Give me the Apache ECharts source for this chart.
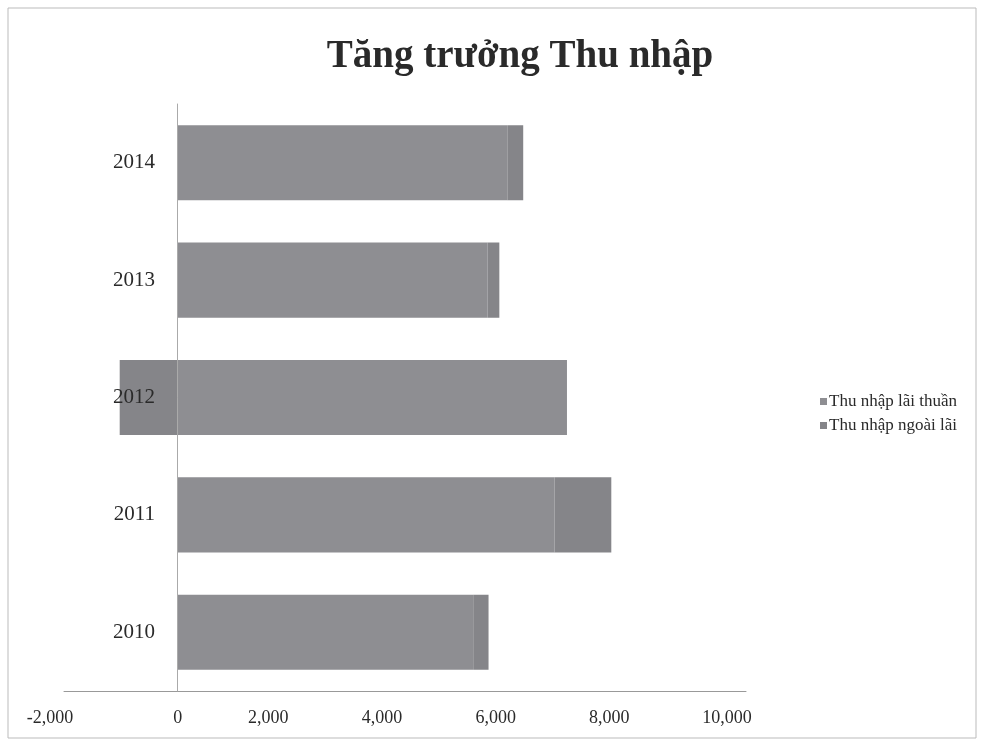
<!DOCTYPE html>
<html>
<head>
<meta charset="utf-8">
<script src="https://cdn.jsdelivr.net/npm/echarts@6/dist/echarts.min.js"></script>
<style>html,body{margin:0;padding:0;background:#fff}#c{width:987px;height:746px}</style>
</head>
<body>
<div id="c"></div>
<script>
const categories = ['2010', '2011', '2012', '2013', '2014'];
const seriesNames = ['Thu nhập lãi thuần', 'Thu nhập ngoài lãi'];
const netInterest = [5200, 6630, 6850, 5450, 5800];
const nonInterest = [270, 1000, -1020, 210, 280];
const xTicks = [-2000, 0, 2000, 4000, 6000, 8000, 10000];

const chart = echarts.init(document.getElementById('c'));
const font = '"Liberation Serif", "DejaVu Serif", serif';
const labelStyle = { fontFamily: font, fontSize: 18, color: '#2a2a2a' };
chart.setOption({
  animation: false,
  backgroundColor: '#fff',
  title: {
    text: 'Tăng trưởng Thu nhập',
    left: 515, top: 32, textAlign: 'center',
    textStyle: { fontFamily: font, fontSize: 39, fontWeight: 'bold', color: '#2a2a2a' }
  },
  legend: {
    orient: 'vertical', left: 815, top: 388, itemGap: 7,
    itemWidth: 7, itemHeight: 7, icon: 'rect',
    textStyle: { fontFamily: font, fontSize: 17, color: '#2a2a2a', padding: [0, 0, 0, -3] },
    data: seriesNames
  },
  grid: { left: 64, right: 241, top: 104, bottom: 55, containLabel: false },
  xAxis: {
    type: 'value', min: -2000, max: 10000, interval: 2000,
    axisLine: { show: true, lineStyle: { color: '#999', width: 1 } },
    axisTick: { show: false },
    splitLine: { show: false },
    axisLabel: {
      color: '#2a2a2a', margin: 18,
      formatter: v => {
        const t = v.toLocaleString('en-US');
        if (v === 0) return '{z|' + t + '}';
        if (v === -2000) return '{m|' + t + '}';
        if (v === 10000) return '{e|' + t + '}';
        return '{s|' + t + '}';
      },
      rich: {
        z: Object.assign({}, labelStyle),
        m: Object.assign({ padding: [0, 28, 0, 0] }, labelStyle),
        s: Object.assign({ padding: [0, 46, 0, 0] }, labelStyle),
        e: Object.assign({ padding: [0, 38, 0, 0] }, labelStyle)
      }
    }
  },
  yAxis: {
    type: 'category', data: categories, z: 5,
    axisLine: { show: true, onZero: true, lineStyle: { color: '#aaa', width: 1 } },
    axisTick: { show: false },
    axisLabel: { fontFamily: font, fontSize: 21, color: '#2a2a2a', margin: -91 }
  },
  series: [
    { name: seriesNames[0], type: 'bar', stack: 'a', data: netInterest, barCategoryGap: '36%',
      itemStyle: { color: '#8e8e92' } },
    { name: seriesNames[1], type: 'bar', stack: 'a', data: nonInterest, barCategoryGap: '36%',
      itemStyle: { color: '#858589' } }
  ],
  graphic: [
    { type: 'rect', shape: { x: 8, y: 8, width: 968, height: 730 },
      style: { fill: 'none', stroke: '#bbb', lineWidth: 1 }, silent: true }
  ]
});
</script>
</body>
</html>
